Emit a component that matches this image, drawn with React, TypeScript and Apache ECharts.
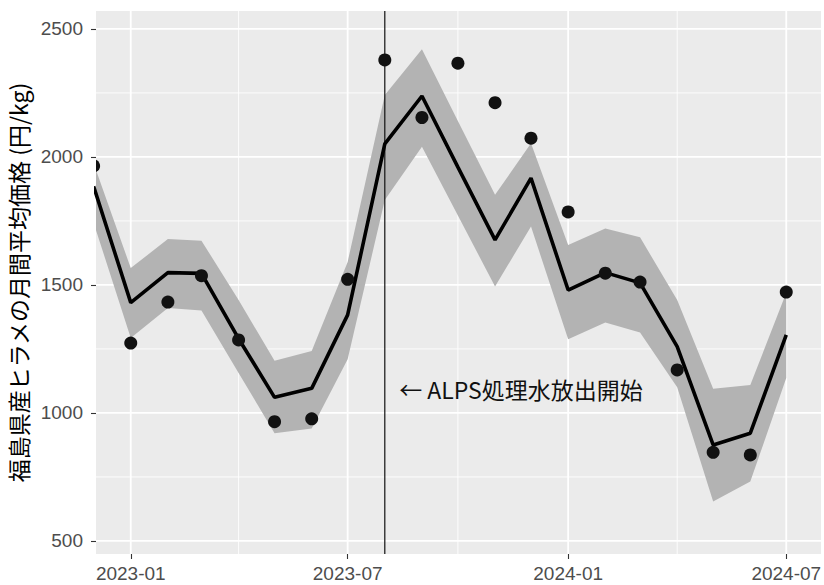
import React, { useEffect, useRef } from 'react';
import * as echarts from 'echarts';

// ---- data ----
const months = [
  '2022-12-01', '2023-01-01', '2023-02-01', '2023-03-01', '2023-04-01',
  '2023-05-01', '2023-06-01', '2023-07-01', '2023-08-01', '2023-09-01',
  '2023-10-01', '2023-11-01', '2023-12-01', '2024-01-01', '2024-02-01',
  '2024-03-01', '2024-04-01', '2024-05-01', '2024-06-01', '2024-07-01',
];
const observed = [
  1965, 1273, 1433, 1536, 1285, 966, 977, 1522, 2379, 2154,
  2366, 2212, 2073, 1785, 1546, 1511, 1168, 846, 836, 1472,
];
const fitted = [
  1885, 1431, 1548, 1545, 1290, 1061, 1096, 1383, 2051, 2238,
  1960, 1676, 1917, 1480, 1548, 1508, 1259, 875, 921, 1305,
];
const lowerCI = [
  1743, 1293, 1410, 1400, 1156, 921, 939, 1210, 1832, 2040,
  1771, 1494, 1728, 1288, 1353, 1314, 1100, 654, 732, 1136,
];
const upperCI = [
  1975, 1566, 1679, 1673, 1441, 1204, 1242, 1590, 2242, 2421,
  2140, 1852, 2053, 1656, 1720, 1686, 1441, 1094, 1109, 1469,
];
const yMajorTicks = [500, 1000, 1500, 2000, 2500];
const yMinorTicks = [750, 1250, 1750, 2250];
const xMajorTicks = ['2023-01-01', '2023-07-01', '2024-01-01', '2024-07-01'];
const xMinorTicks = ['2023-04-01', '2023-10-01', '2024-04-01'];
const xRange = ['2022-12-03', '2024-07-30'];
const yRange = [449, 2570];
const eventDate = '2023-08-01';
const eventLabel = '← ALPS処理水放出開始';
const eventLabelDate = '2023-08-13';
const eventLabelValue = 1094;
const yTitle = '福島県産ヒラメの月間平均価格 (円/kg)';

function ts(s: string): number {
  const [y, m, d] = s.split('-').map(Number);
  return new Date(y, m - 1, d).getTime();
}
function fmtMonth(v: number): string {
  const d = new Date(v);
  return `${d.getFullYear()}-${String(d.getMonth() + 1).padStart(2, '0')}`;
}

const MAJOR_W = 1.8;
const MINOR_W = 0.9;

export default function App() {
  const ref = useRef<HTMLDivElement>(null);
  useEffect(() => {
    if (!ref.current) return;
    const chart = echarts.init(ref.current, undefined, { renderer: 'svg' });
    const xMin = ts(xRange[0]);
    const xMax = ts(xRange[1]);
    const hGrid = [
      ...yMajorTicks.map((v) => [v, MAJOR_W]),
      ...yMinorTicks.map((v) => [v, MINOR_W]),
    ];
    const vGrid = [
      ...xMajorTicks.map((d) => [ts(d), MAJOR_W]),
      ...xMinorTicks.map((d) => [ts(d), MINOR_W]),
    ];
    const rows = months.map((m, i) => [ts(m), lowerCI[i], upperCI[i]]);
    const tickStyle = { color: '#333333', width: 1.1 };
    const labelBase = { color: '#4D4D4D', fontSize: 19, fontFamily: 'Liberation Sans' };

    chart.setOption({
      animation: false,
      grid: {
        left: 96, top: 11, right: 3, bottom: 31,
        show: true, backgroundColor: '#EBEBEB', borderWidth: 0,
        containLabel: false, outerBoundsMode: 'none',
      },
      xAxis: {
        type: 'value', min: xMin, max: xMax, scale: true,
        axisLine: { show: false },
        axisTick: { show: true, length: 5, lineStyle: tickStyle, customValues: xMajorTicks.map(ts) },
        axisLabel: { ...labelBase, margin: 10, customValues: xMajorTicks.map(ts), formatter: (v: number) => fmtMonth(v) },
        splitLine: { show: false },
      },
      yAxis: {
        type: 'value', min: yRange[0], max: yRange[1],
        axisLine: { show: false },
        axisTick: { show: true, length: 5, lineStyle: tickStyle, customValues: yMajorTicks },
        axisLabel: { ...labelBase, margin: 13, customValues: yMajorTicks, formatter: (v: number) => String(v) },
        splitLine: { show: false },
        name: yTitle, nameLocation: 'middle', nameRotate: 90, nameGap: 49,
        nameTextStyle: { fontSize: 23, fontFamily: 'Noto Sans CJK JP', color: '#000000' },
      },
      series: [
        {
          type: 'custom', z: 1, silent: true, clip: true, data: hGrid.map((g) => [xMin, g[0]]),
          renderItem: (params: any, api: any) => {
            const cs = params.coordSys;
            const y = api.coord([xMin, hGrid[params.dataIndex][0]])[1];
            return {
              type: 'line',
              shape: { x1: cs.x, y1: y, x2: cs.x + cs.width, y2: y },
              style: { stroke: '#FFFFFF', lineWidth: hGrid[params.dataIndex][1] },
            };
          },
        },
        {
          type: 'custom', z: 1, silent: true, clip: true, data: vGrid.map((g) => [g[0], yRange[0]]),
          renderItem: (params: any, api: any) => {
            const cs = params.coordSys;
            const x = api.coord([vGrid[params.dataIndex][0], yRange[0]])[0];
            return {
              type: 'line',
              shape: { x1: x, y1: cs.y, x2: x, y2: cs.y + cs.height },
              style: { stroke: '#FFFFFF', lineWidth: vGrid[params.dataIndex][1] },
            };
          },
        },
        {
          type: 'custom', z: 2, silent: true, clip: true, data: rows.map((r) => [r[0], r[1]]),
          renderItem: (params: any, api: any) => {
            if (params.dataIndex !== 0) return null;
            const pts: number[][] = [];
            rows.forEach((r) => pts.push(api.coord([r[0], r[2]])));
            for (let i = rows.length - 1; i >= 0; i--) pts.push(api.coord([rows[i][0], rows[i][1]]));
            return { type: 'polygon', shape: { points: pts }, style: { fill: '#B3B3B3' } };
          },
        },
        {
          type: 'custom', z: 3, silent: true, clip: true, data: [[ts(eventDate), yRange[0]]],
          renderItem: (params: any, api: any) => {
            const cs = params.coordSys;
            const x = api.coord([ts(eventDate), yRange[0]])[0];
            return {
              type: 'line',
              shape: { x1: x, y1: cs.y, x2: x, y2: cs.y + cs.height },
              style: { stroke: '#111111', lineWidth: 1.2 },
            };
          },
        },
        {
          type: 'line', z: 4, silent: true, clip: true, showSymbol: false, symbol: 'none',
          data: months.map((m, i) => [ts(m), fitted[i]]),
          lineStyle: { color: '#000000', width: 3.6 },
        },
        {
          type: 'custom', z: 5, silent: true, clip: true,
          data: months.map((m, i) => [ts(m), observed[i]]),
          renderItem: (params: any, api: any) => {
            const p = api.coord([api.value(0), api.value(1)]);
            return { type: 'circle', shape: { cx: p[0], cy: p[1], r: 6.5 }, style: { fill: '#111111' } };
          },
        },
        {
          type: 'custom', z: 6, silent: true, clip: false,
          data: [[ts(eventLabelDate), eventLabelValue]],
          renderItem: (params: any, api: any) => {
            const p = api.coord([ts(eventLabelDate), eventLabelValue]);
            return {
              type: 'text', x: p[0], y: p[1],
              style: {
                text: eventLabel, fill: '#111111', fontSize: 23,
                fontFamily: 'Noto Sans CJK JP', align: 'left', verticalAlign: 'middle',
              },
            };
          },
        },
      ],
    });
    return () => chart.dispose();
  }, []);
  return (
    <div
      ref={ref}
      style={{ position: 'fixed', left: 0, top: 0, width: 824, height: 585, background: '#FFFFFF' }}
    />
  );
}
